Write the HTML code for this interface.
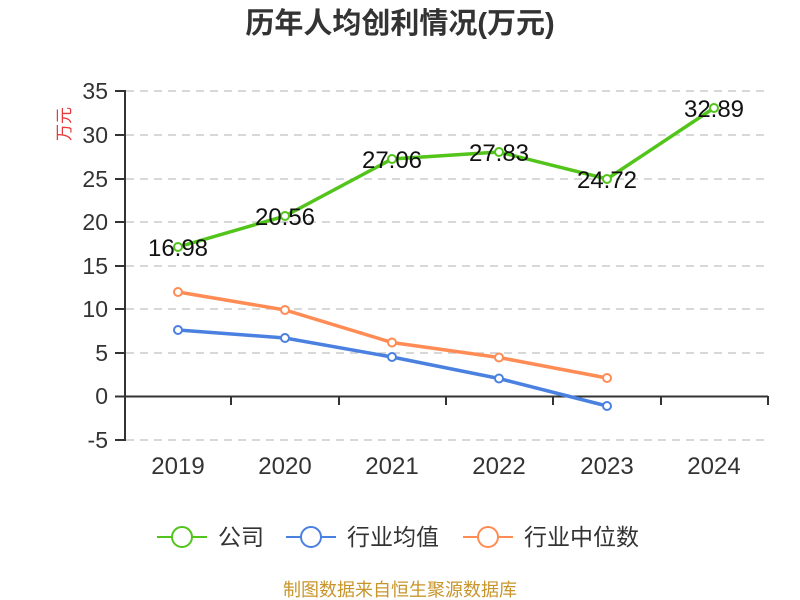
<!DOCTYPE html>
<html><head><meta charset="utf-8"><style>body{margin:0;background:#fff}svg{display:block}</style></head><body>
<svg width="800" height="600" xmlns="http://www.w3.org/2000/svg" font-family="Liberation Sans, Noto Sans CJK SC, sans-serif">
<text x="400" y="33" text-anchor="middle" font-size="29" font-weight="bold" fill="#333">历年人均创利情况(万元)</text>
<text transform="translate(70,124) rotate(-90)" text-anchor="middle" font-size="17" fill="#e83a3a">万元</text>
<g stroke="#ccc" stroke-width="1.5" stroke-dasharray="8,6">
<line x1="126" x2="768" y1="91" y2="91"/><line x1="126" x2="768" y1="135" y2="135"/><line x1="126" x2="768" y1="179" y2="179"/><line x1="126" x2="768" y1="222" y2="222"/><line x1="126" x2="768" y1="266" y2="266"/><line x1="126" x2="768" y1="309" y2="309"/><line x1="126" x2="768" y1="353" y2="353"/><line x1="126" x2="768" y1="440" y2="440"/>
</g>
<g stroke="#333" stroke-width="2">
<line x1="125" x2="125" y1="90" y2="441"/>
<line x1="115" x2="125" y1="91" y2="91"/><line x1="115" x2="125" y1="135" y2="135"/><line x1="115" x2="125" y1="179" y2="179"/><line x1="115" x2="125" y1="222" y2="222"/><line x1="115" x2="125" y1="266" y2="266"/><line x1="115" x2="125" y1="309" y2="309"/><line x1="115" x2="125" y1="353" y2="353"/><line x1="115" x2="125" y1="396.5" y2="396.5"/><line x1="115" x2="125" y1="440" y2="440"/>
<line x1="125" x2="768" y1="396.5" y2="396.5"/>
<line x1="231" x2="231" y1="396" y2="405"/><line x1="339" x2="339" y1="396" y2="405"/><line x1="446" x2="446" y1="396" y2="405"/><line x1="553" x2="553" y1="396" y2="405"/><line x1="661" x2="661" y1="396" y2="405"/><line x1="768" x2="768" y1="396" y2="405"/>
</g>
<g font-size="23" fill="#333" text-anchor="end">
<text x="108" y="99">35</text><text x="108" y="143">30</text><text x="108" y="187">25</text><text x="108" y="230">20</text><text x="108" y="274">15</text><text x="108" y="317">10</text><text x="108" y="361">5</text><text x="108" y="404">0</text><text x="108" y="448">-5</text>
</g>
<g font-size="24" fill="#333" text-anchor="middle">
<text x="178" y="474">2019</text><text x="285" y="474">2020</text><text x="392" y="474">2021</text><text x="499" y="474">2022</text><text x="607" y="474">2023</text><text x="714" y="474">2024</text>
</g>
<polyline fill="none" stroke="#ff8c55" stroke-width="3.5" points="178,292 285,310 392,342.5 499,357.5 607,378"/>
<polyline fill="none" stroke="#4a80e0" stroke-width="3.5" points="178,330 285,338 392,357 499,378.5 607,406"/>
<polyline fill="none" stroke="#52c41a" stroke-width="3.5" points="178,247 285,216 392,159 499,152 607,179 714,108"/>
<g fill="#fff" stroke-width="2">
<g stroke="#ff8c55"><circle cx="178" cy="292" r="4"/><circle cx="285" cy="310" r="4"/><circle cx="392" cy="342.5" r="4"/><circle cx="499" cy="357.5" r="4"/><circle cx="607" cy="378" r="4"/></g>
<g stroke="#4a80e0"><circle cx="178" cy="330" r="4"/><circle cx="285" cy="338" r="4"/><circle cx="392" cy="357" r="4"/><circle cx="499" cy="378.5" r="4"/><circle cx="607" cy="406" r="4"/></g>
<g stroke="#52c41a"><circle cx="178" cy="247" r="4"/><circle cx="285" cy="216" r="4"/><circle cx="392" cy="159" r="4"/><circle cx="499" cy="152" r="4"/><circle cx="607" cy="179" r="4"/><circle cx="714" cy="108" r="4"/></g>
</g>
<g font-size="24" fill="#111" text-anchor="middle">
<text x="178" y="256">16.98</text><text x="285" y="225">20.56</text><text x="392" y="168">27.06</text><text x="499" y="161">27.83</text><text x="607" y="188">24.72</text><text x="714" y="117">32.89</text>
</g>
<g stroke-width="2" fill="#fff">
<line x1="157" x2="207" y1="537" y2="537" stroke="#52c41a"/><circle cx="182" cy="537" r="10" stroke="#52c41a"/>
<line x1="286" x2="336" y1="537" y2="537" stroke="#4a80e0"/><circle cx="311" cy="537" r="10" stroke="#4a80e0"/>
<line x1="463" x2="513" y1="537" y2="537" stroke="#ff8c55"/><circle cx="488" cy="537" r="10" stroke="#ff8c55"/>
</g>
<g font-size="23" fill="#333">
<text x="218" y="545">公司</text><text x="347" y="545">行业均值</text><text x="524" y="545">行业中位数</text>
</g>
<text x="400" y="596" text-anchor="middle" font-size="18" fill="#c8952a">制图数据来自恒生聚源数据库</text>
</svg>
</body></html>
